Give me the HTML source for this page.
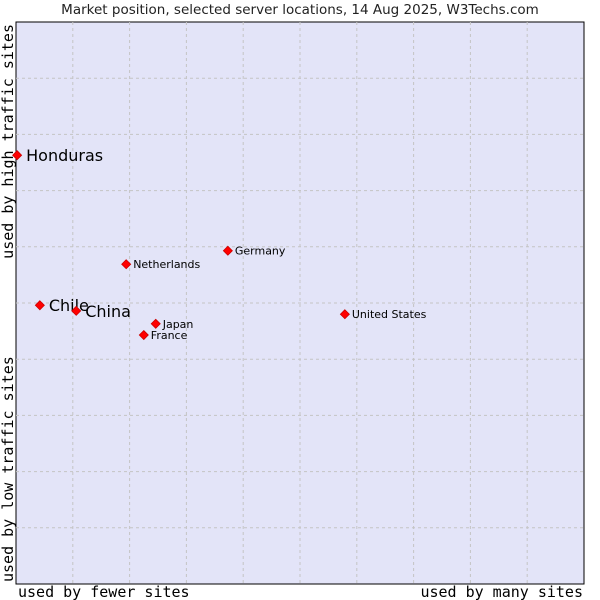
<!DOCTYPE html>
<html><head><meta charset="utf-8"><style>
body{margin:0;background:#fff;width:600px;height:600px;overflow:hidden}
svg{display:block}
</style></head><body>
<svg id="chart" width="600" height="600" xmlns="http://www.w3.org/2000/svg" font-family="DejaVu Sans, sans-serif">
<text x="300" y="14" text-anchor="middle" font-size="13.5" fill="#222">Market position, selected server locations, 14 Aug 2025, W3Techs.com</text>
<rect x="16" y="22" width="568" height="562" fill="#e3e4f8" stroke="#000" stroke-width="1"/>
<g id="grid"></g>
<g id="points"></g>
<text x="18" y="597" font-family="DejaVu Sans Mono, monospace" font-size="15" fill="#000">used by fewer sites</text>
<text x="583" y="597" text-anchor="end" font-family="DejaVu Sans Mono, monospace" font-size="15" fill="#000">used by many sites</text>
<text transform="translate(13,24) rotate(-90)" text-anchor="end" font-family="DejaVu Sans Mono, monospace" font-size="15" fill="#000">used by high traffic sites</text>
<text transform="translate(13,582) rotate(-90)" font-family="DejaVu Sans Mono, monospace" font-size="15" fill="#000">used by low traffic sites</text>
</svg>
<script>
const names = ["Honduras","Chile","China","Netherlands","Germany","Japan","France","United States"];
const xVals = [0.02,0.42,1.06,1.94,3.73,2.46,2.25,5.79];
const yVals = [7.63,4.96,4.86,5.69,5.93,4.63,4.43,4.80];
const bigLabel = [true,true,true,false,false,false,false,false];
const NS="http://www.w3.org/2000/svg";
const X0=16,X1=584,Y0=584,Y1=22;
function sx(v){return X0+(X1-X0)*v/10;}
function sy(v){return Y0-(Y0-Y1)*v/10;}
const grid=document.getElementById('grid');
for(let i=1;i<10;i++){
  const lv=document.createElementNS(NS,'line');
  
  
  lv.setAttribute('x1',sx(i));lv.setAttribute('x2',sx(i));lv.setAttribute('y1',Y1);lv.setAttribute('y2',Y0);
  lv.setAttribute('stroke','#c4c4c4');lv.setAttribute('stroke-dasharray','3,3');
  grid.appendChild(lv);
  const lh=document.createElementNS(NS,'line');
  
  
  lh.setAttribute('y1',sy(i));lh.setAttribute('y2',sy(i));lh.setAttribute('x1',X0);lh.setAttribute('x2',X1);
  lh.setAttribute('stroke','#c4c4c4');lh.setAttribute('stroke-dasharray','3,3');
  grid.appendChild(lh);
}
const pts=document.getElementById('points');
names.forEach((n,i)=>{
  const x=sx(xVals[i]),y=sy(yVals[i]);
  const d=document.createElementNS(NS,'path');
  
  
  d.setAttribute('d',`M${x} ${y-4.5}L${x+4.5} ${y}L${x} ${y+4.5}L${x-4.5} ${y}Z`);
  d.setAttribute('fill','#f00');d.setAttribute('stroke','#c00');d.setAttribute('stroke-width','0.8');
  pts.appendChild(d);
  const t=document.createElementNS(NS,'text');
  
  
  t.setAttribute('x',x+(bigLabel[i]?9:7));
  t.setAttribute('y',y+(bigLabel[i]?6:4));
  t.setAttribute('font-size',bigLabel[i]?16:11);
  t.setAttribute('fill','#000');
  t.textContent=n;
  pts.appendChild(t);
});
</script>
</body></html>
